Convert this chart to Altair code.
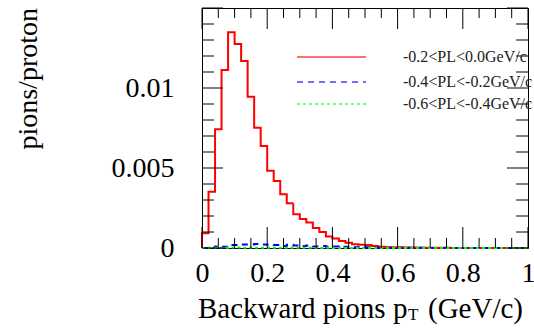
import altair as alt
import pandas as pd

# ---------------- data ----------------
bin_width = 0.02
n_bins = 50

red_vals = [0.00092, 0.00352, 0.00742, 0.01113, 0.01348, 0.01275, 0.01169, 0.00946, 0.00752, 0.00638,
            0.00483, 0.00419, 0.00336, 0.00279, 0.00211, 0.00181, 0.00159, 0.00125, 0.00100, 0.00072,
            0.00059, 0.00044, 0.00033, 0.00023, 0.00020, 0.00019, 0.00013, 0.00008, 0.00005, 0.00004,
            0.00004, 0.00003, 0.00003, 0.00002, 0.00002, 0.00001, 0.00001, 0.00001, 0.0, 0.0,
            0.0, 0.0, 0.0, 0.0, 0.0, 0.0, 0.0, 0.0, 0.0, 0.0]

blue_vals = [0.0, 0.00002, 0.00010, 0.00008, 0.00018, 0.00018, 0.00022, 0.00022, 0.00025, 0.00022,
             0.00020, 0.00018, 0.00012, 0.00020, 0.00016, 0.00012, 0.00015, 0.00010, 0.00012, 0.00008,
             0.00010, 0.00006, 0.00008, 0.00005, 0.00006, 0.00004, 0.00003, 0.00002, 0.00002, 0.00001,
             0.00001, 0.00001, 0.0, 0.00001, 0.0, 0.0, 0.0, 0.0, 0.0, 0.0,
             0.0, 0.0, 0.0, 0.0, 0.0, 0.0, 0.0, 0.0, 0.0, 0.0]

green_vals = [0.0, 0.00001, 0.00002, 0.00002, 0.00003, 0.00003, 0.00002, 0.00003, 0.00002, 0.00002,
              0.00002, 0.00001, 0.00002, 0.00001, 0.00001, 0.00001, 0.00001, 0.00001, 0.0, 0.00001,
              0.0, 0.0, 0.0, 0.0, 0.0, 0.0, 0.0, 0.0, 0.0, 0.0,
              0.0, 0.0, 0.0, 0.0, 0.0, 0.0, 0.0, 0.0, 0.0, 0.0,
              0.0, 0.0, 0.0, 0.0, 0.0, 0.0, 0.0, 0.0, 0.0, 0.0]

series_names = ["-0.2<PL<0.0GeV/c", "-0.4<PL<-0.2GeV/c", "-0.6<PL<-0.4GeV/c"]
series_colors = ["#ff0000", "#0000ff", "#00ff00"]
series_dash = [[1, 0], [6, 5], [3, 3]]

x_major = [0.0, 0.2, 0.4, 0.6, 0.8, 1.0]
x_minor = [0.05, 0.1, 0.15, 0.25, 0.3, 0.35, 0.45, 0.5, 0.55, 0.65, 0.7, 0.75, 0.85, 0.9, 0.95]
y_labels = [0.0, 0.005, 0.01]
y_major = [0.0, 0.005, 0.01, 0.015]
y_minor = [0.001, 0.002, 0.003, 0.004, 0.006, 0.007, 0.008, 0.009,
           0.011, 0.012, 0.013, 0.014]

x_title_main = "Backward pions p"
x_title_sub = "T"
x_title_unit = "(GeV/c)"
y_title = "pions/proton"

# ---------------- helpers ----------------
W, H = 326, 240
FONT = "Liberation Serif"

xscale = alt.Scale(domain=[0, 1], nice=False, zero=False)
yscale = alt.Scale(domain=[0, 0.015], nice=False, zero=False)

xaxis = alt.Axis(values=x_major, format="~g", ticks=False, domain=False, grid=False,
                 labelFont=FONT, labelFontSize=28, labelColor="black",
                 labelPadding=11, title=None, labelFlush=False, labelOverlap=False)
yaxis = alt.Axis(values=y_labels, format="~g", ticks=False, domain=False, grid=False,
                 labelFont=FONT, labelFontSize=28, labelColor="black",
                 labelPadding=28, title=None, labelOverlap=False)


def X(field):
    return alt.X(field, type="quantitative", scale=xscale, axis=xaxis)


def Y(field):
    return alt.Y(field, type="quantitative", scale=yscale, axis=yaxis)


def hist_df(vals):
    rows = [{"x": 0.0, "y": 0.0}]
    for i, v in enumerate(vals):
        rows.append({"x": round(i * bin_width, 4), "y": v})
    rows.append({"x": round(n_bins * bin_width, 4), "y": vals[-1]})
    return pd.DataFrame(rows)


layers = []

# histograms
for vals, col, dash in zip([red_vals, blue_vals, green_vals], series_colors, series_dash):
    layers.append(
        alt.Chart(hist_df(vals)).mark_line(
            interpolate="step-after", color=col, strokeWidth=2, strokeDash=dash
        ).encode(x=X("x"), y=Y("y"))
    )

# ticks (inside, on all four sides)
xmin_df = pd.DataFrame({"t": x_minor})
xmaj_df = pd.DataFrame({"t": x_major})
ymin_df = pd.DataFrame({"t": y_minor})
ymaj_df = pd.DataFrame({"t": y_major})

for df, ln in [(xmin_df, 10), (xmaj_df, 21)]:
    layers.append(alt.Chart(df).mark_rule(color="black", strokeWidth=1).encode(
        x=X("t"), y=alt.value(H), y2=alt.value(H - ln)))
    layers.append(alt.Chart(df).mark_rule(color="black", strokeWidth=1).encode(
        x=X("t"), y=alt.value(0), y2=alt.value(ln)))
for df, ln in [(ymin_df, 12), (ymaj_df, 21)]:
    layers.append(alt.Chart(df).mark_rule(color="black", strokeWidth=1).encode(
        y=Y("t"), x=alt.value(0), x2=alt.value(ln)))
    layers.append(alt.Chart(df).mark_rule(color="black", strokeWidth=1).encode(
        y=Y("t"), x=alt.value(W), x2=alt.value(W - ln)))

# legend
leg_y = [49, 74, 96]
for name, col, dash, ly in zip(series_names, series_colors, series_dash, leg_y):
    ldf = pd.DataFrame({"name": [name]})
    layers.append(alt.Chart(ldf).mark_rule(color=col, strokeWidth=1.5, strokeDash=dash, opacity=0.75).encode(
        x=alt.value(95), x2=alt.value(164), y=alt.value(ly)))
    layers.append(alt.Chart(ldf).mark_text(font=FONT, fontSize=16, color="#222", align="left",
                                           baseline="middle").encode(
        x=alt.value(201), y=alt.value(ly), text="name:N"))

# axis titles
layers.append(alt.Chart(pd.DataFrame({"t": [y_title]})).mark_text(
    font=FONT, fontSize=28, color="black", angle=270, align="right", baseline="alphabetic"
).encode(x=alt.value(-165), y=alt.value(0), text="t:N"))

layers.append(alt.Chart(pd.DataFrame({"t": [x_title_main]})).mark_text(
    font=FONT, fontSize=29, color="black", align="left", baseline="alphabetic"
).encode(x=alt.value(-4), y=alt.value(310), text="t:N"))
layers.append(alt.Chart(pd.DataFrame({"t": [x_title_sub]})).mark_text(
    font=FONT, fontSize=17, color="black", align="left", baseline="alphabetic"
).encode(x=alt.value(206), y=alt.value(312), text="t:N"))
layers.append(alt.Chart(pd.DataFrame({"t": [x_title_unit]})).mark_text(
    font=FONT, fontSize=29, color="black", align="right", baseline="alphabetic"
).encode(x=alt.value(321), y=alt.value(310), text="t:N"))

chart = alt.layer(*layers).properties(
    width=W, height=H,
    autosize=alt.AutoSizeParams(type="none"),
    padding={"left": 202, "top": 8, "right": 6, "bottom": 83},
    background="white",
).configure_view(stroke="black", strokeWidth=1)

chart.save("out.html", embed_options={"renderer": "svg", "actions": False})
